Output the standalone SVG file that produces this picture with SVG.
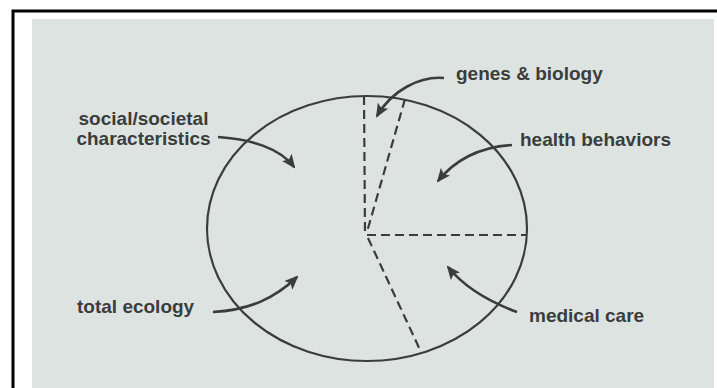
<svg xmlns="http://www.w3.org/2000/svg" width="717" height="388" viewBox="0 0 717 388">
  <defs>
    <style>
      .lbl { font-family: "Liberation Sans", Arial, sans-serif; font-weight: bold; font-size: 19px; fill: #3a3d3c; }
      .ink { fill: none; stroke: #3a3d3c; }
      .dash { fill: none; stroke: #3a3d3c; stroke-width: 2.2; stroke-dasharray: 9 5; }
      .arrow { fill: none; stroke: #3a3d3c; stroke-width: 2.6; marker-end: url(#head); }
    </style>
    <marker id="head" viewBox="0 0 14 12" refX="12" refY="6" markerWidth="14" markerHeight="12" markerUnits="userSpaceOnUse" orient="auto">
      <path d="M0,0 L14,6 L0,12 L3,6 z" fill="#3a3d3c"/>
    </marker>
  </defs>
  <rect x="0" y="0" width="717" height="388" fill="#ffffff"/>
  <rect x="32" y="19" width="682" height="369" fill="#dde3e1"/>
  <path d="M13,388 V11 H717" fill="none" stroke="#000" stroke-width="3"/>

  <g id="pie">
    <ellipse class="ink" cx="367" cy="228.5" rx="160" ry="132.5" stroke-width="2.2"/>
  </g>

  <g id="dividers">
    <path class="dash" d="M364,96 L365,233"/>
    <path class="dash" d="M405,99 L367,232"/>
    <path class="dash" d="M367,235 L527,235"/>
    <path class="dash" d="M368,238 L421,352"/>
  </g>

  <g id="connectors">
    <path class="arrow" d="M444,78 C420,76 392,90 377,116"/>
    <path class="arrow" d="M218,137 C250,139 280,148 294,167"/>
    <path class="arrow" d="M512,145 C480,147 455,160 438,181"/>
    <path class="arrow" d="M213,312 C250,310 275,298 297,277"/>
    <path class="arrow" d="M517,312 C490,302 465,288 448,267"/>
  </g>

  <g id="genes">
    <text class="lbl" x="456" y="80">genes &amp; biology</text>
  </g>
  <g id="social">
    <text class="lbl" x="143.5" y="125" text-anchor="middle">social/societal</text>
    <text class="lbl" x="143.5" y="145" text-anchor="middle">characteristics</text>
  </g>
  <g id="health">
    <text class="lbl" x="520" y="146">health behaviors</text>
  </g>
  <g id="total">
    <text class="lbl" x="77" y="313">total ecology</text>
  </g>
  <g id="medical">
    <text class="lbl" x="529" y="322">medical care</text>
  </g>
</svg>
